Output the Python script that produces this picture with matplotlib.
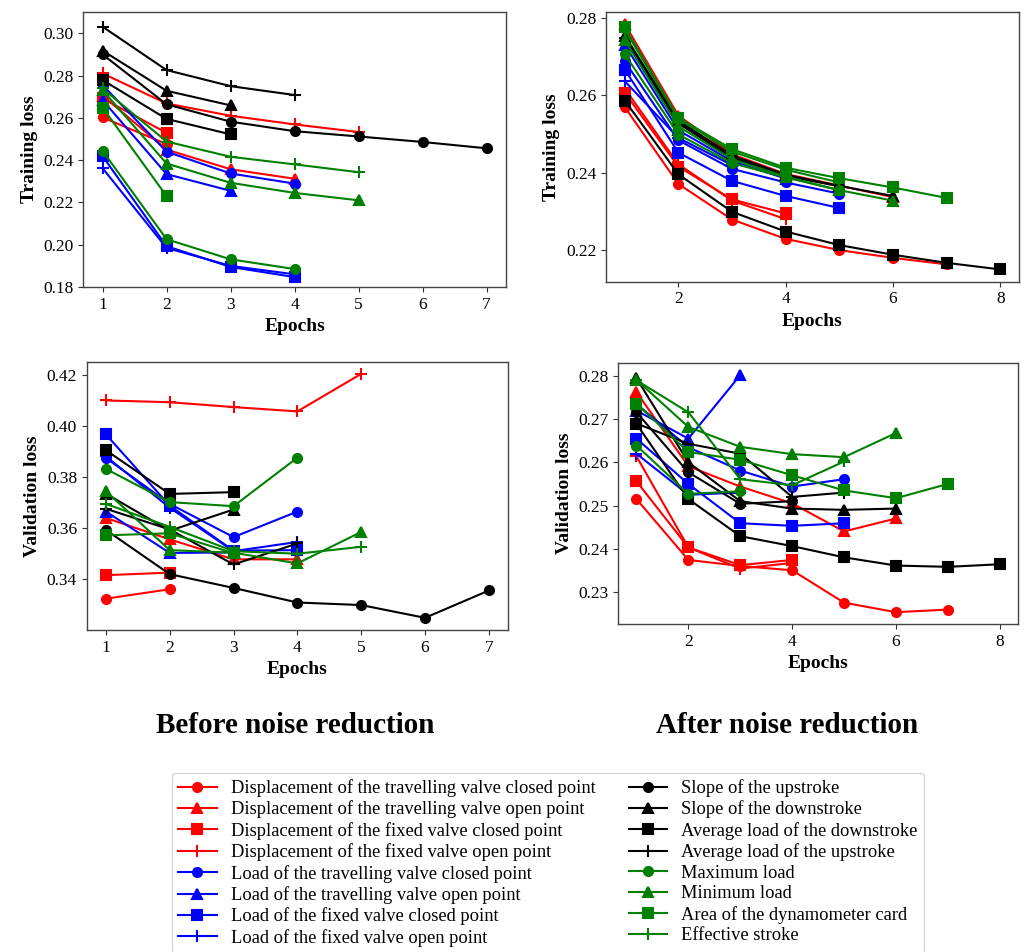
#!/usr/bin/env python3
'''
Training / validation loss per feature, before and after noise reduction
'''
import matplotlib
matplotlib.use('Agg')
import matplotlib.pyplot as plt
from matplotlib.lines import Line2D

SERIF = ['Liberation Serif', 'DejaVu Serif']

LABELS = [
    'Displacement of the travelling valve closed point',
    'Displacement of the travelling valve open point',
    'Displacement of the fixed valve closed point',
    'Displacement of the fixed valve open point',
    'Load of the travelling valve closed point',
    'Load of the travelling valve open point',
    'Load of the fixed valve closed point',
    'Load of the fixed valve open point',
    'Slope of the upstroke',
    'Slope of the downstroke',
    'Average load of the downstroke',
    'Average load of the upstroke',
    'Maximum load',
    'Minimum load',
    'Area of the dynamometer card',
    'Effective stroke',
]

# loss per epoch, one list per feature (same order as LABELS)
TRAIN_BEFORE = [
    [0.2602, 0.2476],
    [0.2705, 0.2450, 0.2357, 0.2312],
    [0.2692, 0.2529],
    [0.2810, 0.2668, 0.2610, 0.2569, 0.2533],
    [0.2755, 0.2440, 0.2337, 0.2289],
    [0.2684, 0.2334, 0.2255],
    [0.2419, 0.1993, 0.1895, 0.1847],
    [0.2362, 0.1985, 0.1900, 0.1860],
    [0.2900, 0.2664, 0.2582, 0.2537, 0.2512, 0.2486, 0.2456],
    [0.2918, 0.2728, 0.2659],
    [0.2779, 0.2595, 0.2522],
    [0.3031, 0.2826, 0.2750, 0.2708],
    [0.2444, 0.2026, 0.1931, 0.1885],
    [0.2731, 0.2384, 0.2293, 0.2245, 0.2210],
    [0.2649, 0.2230],
    [0.2739, 0.2488, 0.2416, 0.2380, 0.2343],
]

VAL_BEFORE = [
    [0.3324, 0.3361],
    [0.3640, 0.3556, 0.3478, 0.3478],
    [0.3416, 0.3426],
    [0.4100, 0.4093, 0.4074, 0.4057, 0.4204],
    [0.3875, 0.3695, 0.3565, 0.3665],
    [0.3665, 0.3503, 0.3505],
    [0.3967, 0.3688, 0.3512, 0.3514],
    [0.3881, 0.3680, 0.3510, 0.3546],
    [0.3593, 0.3420, 0.3366, 0.3309, 0.3299, 0.3249, 0.3356],
    [0.3735, 0.3590, 0.3673],
    [0.3905, 0.3734, 0.3741],
    [0.3676, 0.3595, 0.3458, 0.3540],
    [0.3832, 0.3702, 0.3686, 0.3876],
    [0.3745, 0.3514, 0.3504, 0.3462, 0.3585],
    [0.3572, 0.3580, 0.3502],
    [0.3695, 0.3605, 0.3510, 0.3500, 0.3527],
]

TRAIN_AFTER = [
    [0.2570, 0.2371, 0.2279, 0.2229, 0.2200, 0.2180, 0.2163],
    [0.2785, 0.2548, 0.2448, 0.2397, 0.2367, 0.2337],
    [0.2607, 0.2416, 0.2331, 0.2295],
    [0.2618, 0.2422, 0.2328, 0.2280],
    [0.2688, 0.2484, 0.2410, 0.2375, 0.2346],
    [0.2731, 0.2510, 0.2430, 0.2385],
    [0.2667, 0.2452, 0.2379, 0.2340, 0.2309],
    [0.2637, 0.2490, 0.2420],
    [0.2744, 0.2530, 0.2440, 0.2392, 0.2365],
    [0.2755, 0.2535, 0.2445, 0.2395, 0.2366, 0.2340],
    [0.2587, 0.2396, 0.2299, 0.2248, 0.2213, 0.2188, 0.2167, 0.2150],
    [0.2750, 0.2528, 0.2438, 0.2390],
    [0.2707, 0.2499, 0.2425, 0.2388, 0.2355],
    [0.2743, 0.2520, 0.2435, 0.2390, 0.2355, 0.2328],
    [0.2776, 0.2542, 0.2461, 0.2413, 0.2386, 0.2362, 0.2335],
    [0.2770, 0.2540, 0.2455, 0.2408, 0.2375],
]

VAL_AFTER = [
    [0.2515, 0.2374, 0.2360, 0.2350, 0.2275, 0.2253, 0.2259],
    [0.2763, 0.2591, 0.2544, 0.2505, 0.2440, 0.2470],
    [0.2556, 0.2403, 0.2362, 0.2374],
    [0.2614, 0.2403, 0.2354, 0.2367],
    [0.2735, 0.2635, 0.2581, 0.2544, 0.2561],
    [0.2720, 0.2655, 0.2802],
    [0.2655, 0.2550, 0.2459, 0.2453, 0.2459],
    [0.2620, 0.2525, 0.2530],
    [0.2716, 0.2577, 0.2504, 0.2510],
    [0.2795, 0.2600, 0.2510, 0.2493, 0.2490, 0.2493],
    [0.2689, 0.2515, 0.2429, 0.2406, 0.2380, 0.2361, 0.2358, 0.2364],
    [0.2690, 0.2643, 0.2620, 0.2520, 0.2530],
    [0.2639, 0.2527, 0.2533],
    [0.2791, 0.2682, 0.2636, 0.2619, 0.2612, 0.2668],
    [0.2736, 0.2624, 0.2606, 0.2570, 0.2535, 0.2517, 0.2550],
    [0.2790, 0.2716, 0.2561, 0.2547, 0.2602],
]

COLORS = ['#ff0000'] * 4 + ['#0000ff'] * 4 + ['#000000'] * 4 + ['#008000'] * 4
MARKERS = ['o', '^', 's', '+'] * 4


def draw_panel(ax, series, ylabel, yticks, xticks):
    ''' Draw all feature curves on one axis '''
    for vals, col, mk in zip(series, COLORS, MARKERS):
        epochs = list(range(1, len(vals) + 1))
        ms = 8 if mk == '+' else 6.5
        ax.plot(epochs, vals, color=col, marker=mk, lw=1.5, ms=ms, mew=1.5)
    ax.set_xticks(xticks)
    ax.set_yticks(yticks)
    ax.set_yticklabels(['%.2f' % t for t in yticks])
    ax.set_xlabel('Epochs', fontsize=14, fontweight='bold', family=SERIF)
    ax.set_ylabel(ylabel, fontsize=14, fontweight='bold', family=SERIF)
    ax.tick_params(labelsize=12.5, color='#333333')
    for lab in ax.get_xticklabels() + ax.get_yticklabels():
        lab.set_family(SERIF)
    for sp in ax.spines.values():
        sp.set_color('#444444')
        sp.set_linewidth(1.0)


def main():
    fig = plt.figure(figsize=(10.24, 9.52), dpi=100)

    ax_tl = fig.add_axes([0.0814, 0.6985, 0.4126, 0.2892])
    ax_tr = fig.add_axes([0.5918, 0.7041, 0.4033, 0.2836])
    ax_bl = fig.add_axes([0.0847, 0.3382, 0.4114, 0.2819])
    ax_br = fig.add_axes([0.6038, 0.3445, 0.3903, 0.2739])

    draw_panel(ax_tl, TRAIN_BEFORE, 'Training loss',
               [0.18, 0.20, 0.22, 0.24, 0.26, 0.28, 0.30], range(1, 8))
    draw_panel(ax_tr, TRAIN_AFTER, 'Training loss',
               [0.22, 0.24, 0.26, 0.28], [2, 4, 6, 8])
    draw_panel(ax_bl, VAL_BEFORE, 'Validation loss',
               [0.34, 0.36, 0.38, 0.40, 0.42], range(1, 8))
    draw_panel(ax_br, VAL_AFTER, 'Validation loss',
               [0.23, 0.24, 0.25, 0.26, 0.27, 0.28], [2, 4, 6, 8])
    ax_tl.set_ylim(0.18, 0.3102)

    fig.text(0.288, 0.238, 'Before noise reduction', ha='center', va='center',
             fontsize=21, fontweight='bold', family=SERIF)
    fig.text(0.769, 0.238, 'After noise reduction', ha='center', va='center',
             fontsize=21, fontweight='bold', family=SERIF)

    handles = [Line2D([], [], color=c, marker=m, lw=1.5,
                      ms=(8 if m == '+' else 6.5), mew=1.5)
               for c, m in zip(COLORS, MARKERS)]
    leg = fig.legend(handles, LABELS, loc='upper center',
                     bbox_to_anchor=(0.535, 0.198), ncol=2,
                     prop={'family': SERIF, 'size': 13.3},
                     labelspacing=0.19, handlelength=2.1, handletextpad=0.75,
                     columnspacing=1.8, borderpad=0.35, frameon=True)
    leg.get_frame().set_edgecolor('#cccccc')

    fig.savefig('out.png', dpi=100)


if __name__ == "__main__":
    main()
